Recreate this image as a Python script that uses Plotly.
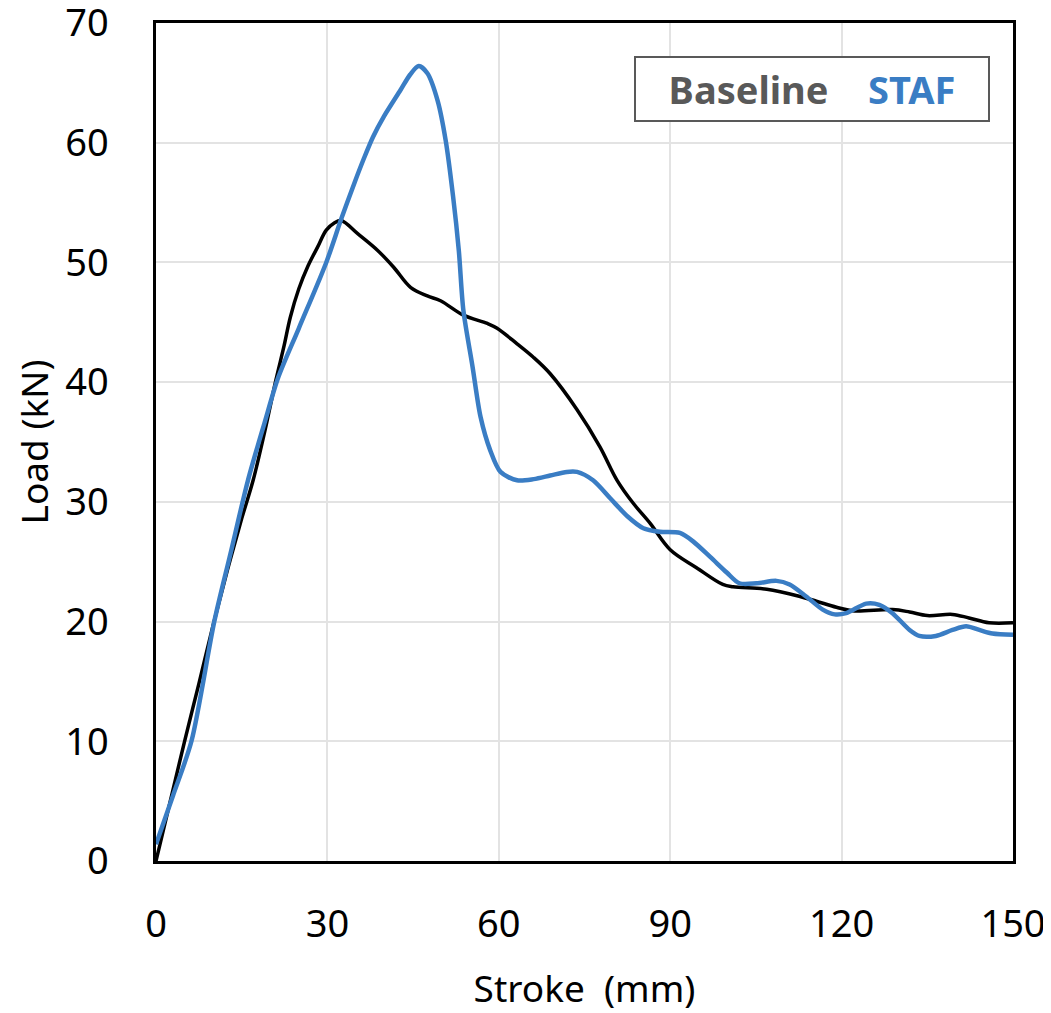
import plotly.graph_objects as go

# Baseline (black) curve: stroke (mm) vs load (kN)
base_x = [0, 2.5, 5, 7.5, 10, 12.5, 15, 17, 19, 21.0, 22.4, 23.5, 25.0, 26.6, 28.3, 29.8, 31.2, 32.4,
          35.3, 38.8, 41.6, 44.6, 47.5, 49.8, 53.8, 58, 59.7, 63.2, 66, 69, 73.7, 77.7, 80.7, 83.5,
          86.5, 90, 94.6, 99.2, 101, 106.9, 112.7, 115.6, 119.1, 121.9, 128.9, 131.9, 135, 139.4,
          142.3, 145.8, 150]
base_y = [0, 5, 10, 14.8, 19.7, 24.3, 28.6, 31.8, 35.8, 40.2, 43.0, 45.4, 47.8, 49.7, 51.3, 52.7,
          53.3, 53.5, 52.4, 51, 49.6, 47.9, 47.2, 46.8, 45.6, 44.9, 44.5, 43.2, 42.1, 40.7, 37.7,
          34.6, 31.8, 29.9, 28.2, 26, 24.5, 23.1, 22.9, 22.7, 22.1, 21.7, 21.2, 20.9, 21, 20.8,
          20.5, 20.6, 20.3, 19.9, 19.9]

# STAF (blue) curve
staf_x = [0, 3, 6.2, 10.2, 13, 16.1, 19, 21.4, 25, 29.8, 32.4, 34.7, 36.4, 38, 39.9, 42.8, 44.5,
          46.0, 47.5, 49.3, 50.7, 52, 53, 53.8, 55.4, 56.8, 58.5, 60.3, 63.2, 66.1, 69, 71.9, 73.7,
          76.5, 79.5, 82.5, 85.3, 88.2, 91.7, 94, 97, 99.9, 102.1, 105.1, 108.6, 110.9, 113.8,
          116.7, 118.8, 120.8, 124.3, 126.6, 128.9, 131.9, 133.6, 136.5, 139.4, 141.8, 144.1,
          146.4, 150]
staf_y = [1.4, 5.5, 10, 20, 25.6, 31.8, 36.6, 40.4, 44.5, 50, 53.6, 56.6, 58.7, 60.5, 62.2, 64.4,
          65.7, 66.4, 65.8, 63.5, 60.2, 55.5, 51, 46, 41.3, 37.1, 34.3, 32.5, 31.8, 31.9, 32.2,
          32.5, 32.5, 31.8, 30.3, 28.8, 27.8, 27.5, 27.4, 26.7, 25.4, 24.1, 23.2, 23.2, 23.4,
          23.1, 22.1, 21.0, 20.6, 20.7, 21.5, 21.4, 20.7, 19.3, 18.8, 18.8, 19.3, 19.6, 19.3,
          19.0, 18.9]

series_names = ["Baseline", "STAF"]
series_colors = ["#000000", "#3a7dc4"]
legend_text_colors = ["#595959", "#3a7dc4"]

x_ticks = [0, 30, 60, 90, 120, 150]
y_ticks = [0, 10, 20, 30, 40, 50, 60, 70]

FONT = "Noto Sans, Open Sans, sans-serif"

fig = go.Figure()
fig.add_trace(go.Scatter(x=base_x, y=base_y, mode="lines", name=series_names[0],
                         line=dict(color=series_colors[0], width=3.5, shape="spline", smoothing=1.0)))
fig.add_trace(go.Scatter(x=staf_x, y=staf_y, mode="lines", name=series_names[1],
                         line=dict(color=series_colors[1], width=4.5, shape="spline", smoothing=0.8)))

legend_html = (f"<b><span style='color:{legend_text_colors[0]}'>{series_names[0]}</span>"
               + "\u00a0" * 4
               + f"<span style='color:{legend_text_colors[1]}'>{series_names[1]}</span></b>")
fig.add_annotation(xref="paper", yref="paper", x=0.765, y=0.921, xanchor="center", yanchor="middle",
                   text=legend_html, showarrow=False, font=dict(family=FONT, size=38),
                   bordercolor="#595959", borderwidth=2, borderpad=6, bgcolor="white",
                   width=340, height=50)

fig.update_layout(
    width=1043, height=1005,
    margin=dict(l=148, r=38, t=15, b=152, autoexpand=False),
    paper_bgcolor="white", plot_bgcolor="white",
    showlegend=False,
    font=dict(family=FONT, size=38, color="#000000"),
)
fig.update_xaxes(range=[0, 150], tickvals=x_ticks, ticks="", ticklabelstandoff=28,
                 ticklabeloverflow="allow", automargin=False,
                 showgrid=True, gridcolor="#e3e3e3", gridwidth=2,
                 showline=True, linecolor="black", linewidth=2.5, mirror=True, zeroline=False,
                 title=dict(text="Stroke\u00a0 (mm)", standoff=32, font=dict(size=37)),
                 tickfont=dict(size=38))
fig.update_yaxes(range=[0, 70], tickvals=y_ticks, ticks="", ticklabelstandoff=37,
                 ticklabeloverflow="allow", automargin=False,
                 showgrid=True, gridcolor="#e3e3e3", gridwidth=2,
                 showline=True, linecolor="black", linewidth=2.5, mirror=True, zeroline=False,
                 title=dict(text="Load (kN)", standoff=20, font=dict(size=37)),
                 tickfont=dict(size=38))

fig.write_html("out.html")
